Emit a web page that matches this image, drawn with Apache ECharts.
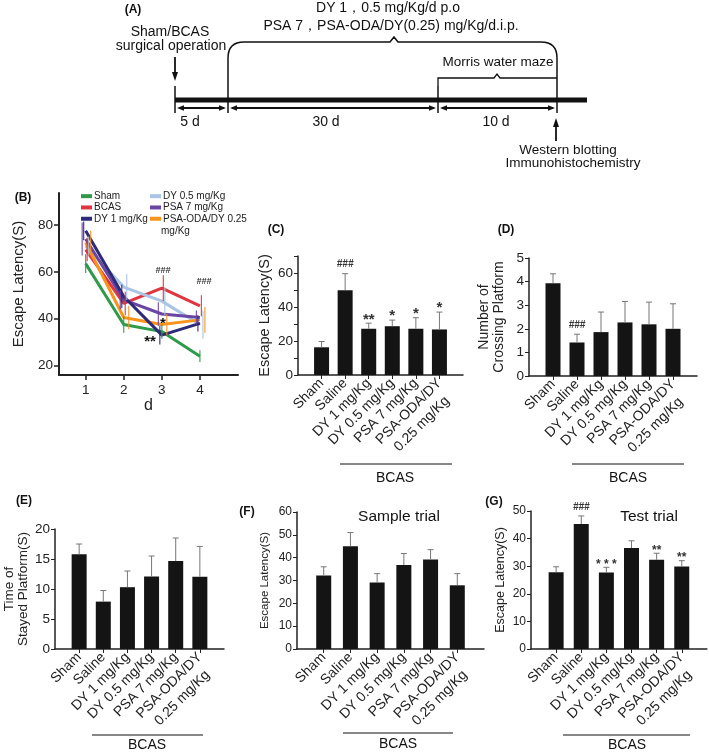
<!DOCTYPE html>
<html><head><meta charset="utf-8">
<script src="https://cdn.jsdelivr.net/npm/echarts@6/dist/echarts.min.js"></script>
<style>html,body{margin:0;padding:0;background:#fff}#c{width:709px;height:752px}</style>
</head><body><div id="c"></div>
<script>
// ---------- DATA ----------
const days = [1, 2, 3, 4];
const lineGroups = ['Sham', 'BCAS', 'DY 1 mg/Kg', 'DY 0.5 mg/Kg', 'PSA 7 mg/Kg', 'PSA-ODA/DY 0.25 mg/Kg'];
const latSham   = [63.5, 37.5, 34.5, 24.0];
const latBCAS   = [69.5, 46.5, 53.0, 45.5];
const latDY1    = [77.5, 49.5, 33.0, 38.0];
const latDY05   = [71.0, 53.5, 47.5, 37.5];
const latPSA7   = [74.0, 48.0, 42.0, 40.5];
const latPSAODA = [72.5, 40.5, 37.5, 39.5];
const errSham   = [4.0, 3.5, 3.0, 2.5];
const errBCAS   = [5.0, 5.0, 5.5, 4.5];
const errDY1    = [4.0, 5.0, 4.0, 3.5];
const errDY05   = [4.0, 5.5, 6.0, 6.0];
const errPSA7   = [7.0, 4.0, 5.0, 3.0];
const errPSAODA = [5.0, 5.0, 4.5, 5.5];
const bTicksY = [20, 40, 60, 80];

const barCats = ['Sham', 'Saline', 'DY 1 mg/Kg', 'DY 0.5 mg/Kg', 'PSA 7 mg/Kg', 'PSA-ODA/DY\n0.25 mg/Kg'];
// (C) escape latency
const cVals = [16.3, 49.8, 27.2, 28.7, 27.2, 26.8];
const cErrs = [3.4, 9.8, 3.3, 3.6, 6.5, 10.2];
const cAnn  = ['', '###', '**', '*', '*', '*'];
// (D) number of crossing platform
const dVals = [3.93, 1.42, 1.86, 2.27, 2.19, 2.0];
const dErrs = [0.40, 0.35, 0.85, 0.89, 0.94, 1.06];
const dAnn  = ['', '###', '', '', '', ''];
// (E) time of stayed platform
const eVals = [15.8, 7.9, 10.3, 12.1, 14.65, 12.05];
const eErrs = [1.7, 1.85, 2.7, 3.4, 3.85, 5.05];
// (F) sample trial
const fVals = [32.2, 45.0, 29.1, 36.8, 39.2, 27.9];
const fErrs = [3.8, 6.0, 3.9, 5.0, 4.3, 5.1];
// (G) test trial
const gVals = [27.8, 45.3, 27.7, 36.6, 32.3, 29.9];
const gErrs = [2.0, 2.9, 1.9, 2.6, 2.4, 2.1];
const gAnn  = ['', '###', '* * *', '', '**', '**'];

// ---------- STYLE ----------
const FONT = '"Liberation Sans", Arial, sans-serif';
const AX = '#222';
const lineColors = ['#2f9a49', '#e0363f', '#2d2a78', '#a9c4e4', '#6a45a3', '#f7941e'];
const errOffsets = [0, 1.5, -2, 3, -3.5, 5];

const chart = echarts.init(document.getElementById('c'));

function catAxis(gi, fs) {
  return {
    type: 'category', gridIndex: gi, data: [''].concat(barCats, ['']), boundaryGap: false,
    axisLine: {lineStyle: {color: AX, width: 1.5}},
    axisTick: {show: true, length: 4, interval: (i) => i > 0 && i <= barCats.length, lineStyle: {color: AX}},
    axisLabel: {interval: 0, rotate: 45, fontSize: fs, color: AX, fontFamily: FONT, margin: 6,
      formatter: (v) => {
        if (v.indexOf('\n') < 0) return v;
        const parts = v.split('\n');
        return '{sp| }\n{l0|' + parts[0] + '}\n{l1|' + parts[1] + '}';
      },
      rich: {sp: {fontSize: fs, lineHeight: 18},
             l0: {fontSize: fs, lineHeight: 18, color: AX, fontFamily: FONT},
             l1: {fontSize: fs, lineHeight: 18, color: AX, fontFamily: FONT, padding: [0, 7, 0, 0]}}},
    splitLine: {show: false}
  };
}
function valAxis(gi, min, max, interval, fs, name, nameGap, nameFs, fmt) {
  return {
    type: 'value', gridIndex: gi, min, max, interval, name, nameLocation: 'middle', nameGap, nameRotate: 90,
    nameTextStyle: {fontSize: nameFs, color: AX, fontFamily: FONT, lineHeight: nameFs + 1},
    axisLine: {show: true, lineStyle: {color: AX, width: 1.5}},
    axisTick: {show: true, length: 4, lineStyle: {color: AX}},
    axisLabel: {fontSize: fs, color: AX, fontFamily: FONT, margin: 5, formatter: fmt},
    splitLine: {show: false}
  };
}
function barSeries(gi, vals) {
  return {type: 'bar', xAxisIndex: gi, yAxisIndex: gi, data: [null].concat(vals, [null]),
    barWidth: 15, itemStyle: {color: '#141414'}, silent: true, z: 2};
}
function errSeries(gi, vals, errs, anns, starFs) {
  return {
    type: 'custom', xAxisIndex: gi, yAxisIndex: gi, silent: true, z: 3,
    data: vals.map((v, i) => [i + 1, v, errs[i]]),
    renderItem: (params, api) => {
      const x = api.value(0), v = api.value(1), e = api.value(2);
      const p0 = api.coord([x, v]), p1 = api.coord([x, v + e]);
      const ch = [
        {type: 'line', shape: {x1: p0[0], y1: p0[1], x2: p1[0], y2: p1[1]}, style: {stroke: '#777', lineWidth: 1}},
        {type: 'line', shape: {x1: p1[0] - 3, y1: p1[1], x2: p1[0] + 3, y2: p1[1]}, style: {stroke: '#777', lineWidth: 1}}
      ];
      const ann = anns ? anns[params.dataIndex] : '';
      if (ann) {
        const hash = ann[0] === '#';
        ch.push({type: 'text', x: p1[0], y: hash ? p1[1] - 9 : p1[1] - starFs * 0.25,
          style: {text: ann, align: 'center', verticalAlign: 'middle', fontFamily: FONT,
            fontSize: hash ? 10 : starFs, fontWeight: 'bold', fontStyle: hash ? 'italic' : 'normal', fill: '#333'}});
      }
      return {type: 'group', children: ch};
    }
  };
}

const latLists = [latSham, latBCAS, latDY1, latDY05, latPSA7, latPSAODA];
const errLists = [errSham, errBCAS, errDY1, errDY05, errPSA7, errPSAODA];
const drawOrder = [0, 1, 3, 5, 4, 2];

const series = [];
drawOrder.forEach((g) => {
  series.push({
    type: 'line', name: lineGroups[g], xAxisIndex: 0, yAxisIndex: 0, color: lineColors[g],
    data: days.map((d, i) => [d, latLists[g][i]]), symbol: 'none', silent: true,
    lineStyle: {width: 3, color: lineColors[g]}, z: 2
  });
  series.push({
    type: 'custom', xAxisIndex: 0, yAxisIndex: 0, silent: true, z: 3,
    data: days.map((d, i) => [d, latLists[g][i], errLists[g][i]]),
    renderItem: (params, api) => {
      const x = api.value(0), v = api.value(1), e = api.value(2);
      const a = api.coord([x, v + e]), b = api.coord([x, v - e]);
      const xo = a[0] + errOffsets[g];
      return {type: 'line', shape: {x1: xo, y1: a[1], x2: xo, y2: b[1]},
        style: {stroke: lineColors[g], lineWidth: 1.2, opacity: 0.9}};
    }
  });
});
series.push(barSeries(1, cVals), errSeries(1, cVals, cErrs, cAnn, 15));
series.push(barSeries(2, dVals), errSeries(2, dVals, dErrs, dAnn, 15));
series.push(barSeries(3, eVals), errSeries(3, eVals, eErrs, null, 15));
series.push(barSeries(4, fVals), errSeries(4, fVals, fErrs, null, 13));
series.push(barSeries(5, gVals), errSeries(5, gVals, gErrs, gAnn, 12));

// ---------- PANEL (A) + annotations ----------
const T = (x, y, text, fs, extra) => Object.assign({type: 'text', x, y, silent: true,
  style: Object.assign({text, fontSize: fs, fontFamily: FONT, fill: '#111', align: 'center', verticalAlign: 'middle'}, extra || {})});
const L = (x1, y1, x2, y2, w) => ({type: 'line', silent: true, shape: {x1, y1, x2, y2}, style: {stroke: '#111', lineWidth: w || 1.5}});
const P = (pts) => ({type: 'polygon', silent: true, shape: {points: pts}, style: {fill: '#111'}});
const g = [];
g.push(T(133, 10, '(A)', 12, {fontWeight: 'bold'}));
g.push(T(388, 8, 'DY 1，0.5 mg/Kg/d p.o', 14));
g.push(T(391, 26, 'PSA 7，PSA-ODA/DY(0.25) mg/Kg/d.i.p.', 14));
g.push(T(170, 32, 'Sham/BCAS', 14));
g.push(T(171, 46, 'surgical operation', 14));
g.push(T(498, 62, 'Morris water maze', 13.5));
g.push(T(568, 150, 'Western blotting', 13.5));
g.push(T(573, 163, 'Immunohistochemistry', 13.5));
g.push(L(175, 100, 587, 100, 5));
[175, 228, 438, 557].forEach((x) => g.push(L(x, 86, x, 113, 1.5)));
[[175, 228], [228, 438], [438, 557]].forEach(([a, b]) => {
  g.push(L(a + 4, 108, b - 4, 108, 1.8));
  g.push(P([[a + 2, 108], [a + 9, 105.3], [a + 9, 110.7]]));
  g.push(P([[b - 2, 108], [b - 9, 105.3], [b - 9, 110.7]]));
});
g.push(T(190, 122, '5 d', 14));
g.push(T(326, 122, '30 d', 14));
g.push(T(496, 122, '10 d', 14));
g.push(L(175, 57, 175, 74, 1.8));
g.push(P([[175, 81], [172, 72], [178, 72]]));
g.push(L(556, 141, 556, 125, 1.8));
g.push(P([[556, 118], [553, 127], [559, 127]]));
// big brace
g.push(L(228, 86, 228, 58, 1.5));
g.push({type: 'bezierCurve', silent: true, shape: {x1: 228, y1: 58, cpx1: 228, cpy1: 42, x2: 244, y2: 42}, style: {stroke: '#111', lineWidth: 1.5, fill: 'none'}});
g.push({type: 'polyline', silent: true, shape: {points: [[244, 42], [390, 42], [394, 37], [398, 42], [541, 42]]}, style: {stroke: '#111', lineWidth: 1.5, fill: 'none'}});
g.push({type: 'bezierCurve', silent: true, shape: {x1: 541, y1: 42, cpx1: 557, cpy1: 42, x2: 557, y2: 58}, style: {stroke: '#111', lineWidth: 1.5, fill: 'none'}});
g.push(L(557, 58, 557, 86, 1.5));
// Morris bracket
g.push({type: 'polyline', silent: true, shape: {points: [[438, 86], [438, 78], [494, 78], [497, 74], [500, 78], [557, 78]]}, style: {stroke: '#111', lineWidth: 1.3, fill: 'none'}});

// panel labels
g.push(T(23, 198, '(B)', 12, {fontWeight: 'bold'}));
g.push(T(276, 230, '(C)', 12, {fontWeight: 'bold'}));
g.push(T(506, 230, '(D)', 12, {fontWeight: 'bold'}));
g.push(T(24, 501, '(E)', 12, {fontWeight: 'bold'}));
g.push(T(247, 512, '(F)', 12, {fontWeight: 'bold'}));
g.push(T(494, 502, '(G)', 12, {fontWeight: 'bold'}));
// B annotations
g.push(T(163, 271, '###', 9, {fontWeight: 'bold', fontStyle: 'italic', fill: '#333'}));
g.push(T(204, 282, '###', 9, {fontWeight: 'bold', fontStyle: 'italic', fill: '#333'}));
g.push(T(163, 324, '*', 15, {fontWeight: 'bold'}));
g.push(T(150, 342, '**', 15, {fontWeight: 'bold'}));
g.push(T(161, 231, 'mg/Kg', 10, {align: 'left', fill: AX}));
// BCAS brackets
[[340, 452, 464, 395, 478], [572, 684, 464, 628, 478], [92, 203, 735, 147, 745], [343, 453, 733, 398, 744], [563, 690, 735, 627, 745]]
  .forEach(([a, b, y, cx, ty]) => { g.push(L(a, y, b, y, 1)); g.push(T(cx, ty, 'BCAS', 14)); });
g.push(T(399, 517, 'Sample trial', 15.5));
g.push(T(649, 517, 'Test trial', 15.5));

const legBase = {orient: 'vertical', itemWidth: 11, itemHeight: 4, itemGap: 0, icon: 'rect', padding: 0, selectedMode: false,
  textStyle: {fontSize: 10, lineHeight: 11.3, color: AX, fontFamily: FONT, padding: [0, 0, 0, -3]}};

chart.setOption({
  animation: false,
  backgroundColor: '#fff',
  textStyle: {fontFamily: FONT},
  grid: [
    {left: 59, top: 193, width: 179, height: 182},
    {left: 298, top: 256, width: 165, height: 119},
    {left: 529, top: 258, width: 168, height: 118},
    {left: 55, top: 529, width: 169, height: 120},
    {left: 297, top: 512, width: 187, height: 137},
    {left: 531, top: 511, width: 182, height: 138}
  ],
  legend: [
    Object.assign({}, legBase, {left: 81, top: 190.5, data: ['Sham', 'BCAS', 'DY 1 mg/Kg']}),
    Object.assign({}, legBase, {left: 150, top: 190.5, data: ['DY 0.5 mg/Kg', 'PSA 7 mg/Kg', 'PSA-ODA/DY 0.25 mg/Kg'],
      formatter: (n) => n === 'PSA-ODA/DY 0.25 mg/Kg' ? 'PSA-ODA/DY 0.25' : n})
  ],
  xAxis: [
    {type: 'value', gridIndex: 0, min: 0.3, max: 5, name: 'd', nameLocation: 'middle', nameGap: 11,
      nameTextStyle: {fontSize: 16, color: AX, fontFamily: FONT},
      axisLine: {lineStyle: {color: AX, width: 2}},
      axisTick: {show: true, length: 5, customValues: days, lineStyle: {color: AX, width: 1.5}},
      axisLabel: {customValues: days, fontSize: 13.5, color: AX, fontFamily: FONT, margin: 8},
      splitLine: {show: false}},
    catAxis(1, 14), catAxis(2, 14), catAxis(3, 14), catAxis(4, 14), catAxis(5, 14)
  ],
  yAxis: [
    {type: 'value', gridIndex: 0, min: 16, max: 93.6, name: 'Escape Latency(S)', nameLocation: 'middle', nameGap: 33, nameRotate: 90,
      nameTextStyle: {fontSize: 15, color: AX, fontFamily: FONT},
      axisLine: {show: true, lineStyle: {color: AX, width: 2}},
      axisTick: {show: true, length: 5, customValues: bTicksY, lineStyle: {color: AX, width: 1.5}},
      axisLabel: {customValues: bTicksY, fontSize: 13.5, color: AX, fontFamily: FONT, margin: 6},
      splitLine: {show: false}},
    valAxis(1, 0, 70, 10, 13.5, 'Escape Latency(S)', 25, 14.5, (v) => v % 20 === 0 ? v : ''),
    valAxis(2, 0, 5, 1, 13.5, 'Number of\nCrossing Platform', 22, 14),
    valAxis(3, 0, 20, 5, 13.5, 'Time of\nStayed Platform(S)', 24, 13.5),
    valAxis(4, 0, 60, 10, 12, 'Escape Latency(S)', 26, 11.5),
    valAxis(5, 0, 50, 10, 12, 'Escape Latency(S)', 24, 12.5)
  ],
  series,
  graphic: {elements: g}
});
</script></body></html>
